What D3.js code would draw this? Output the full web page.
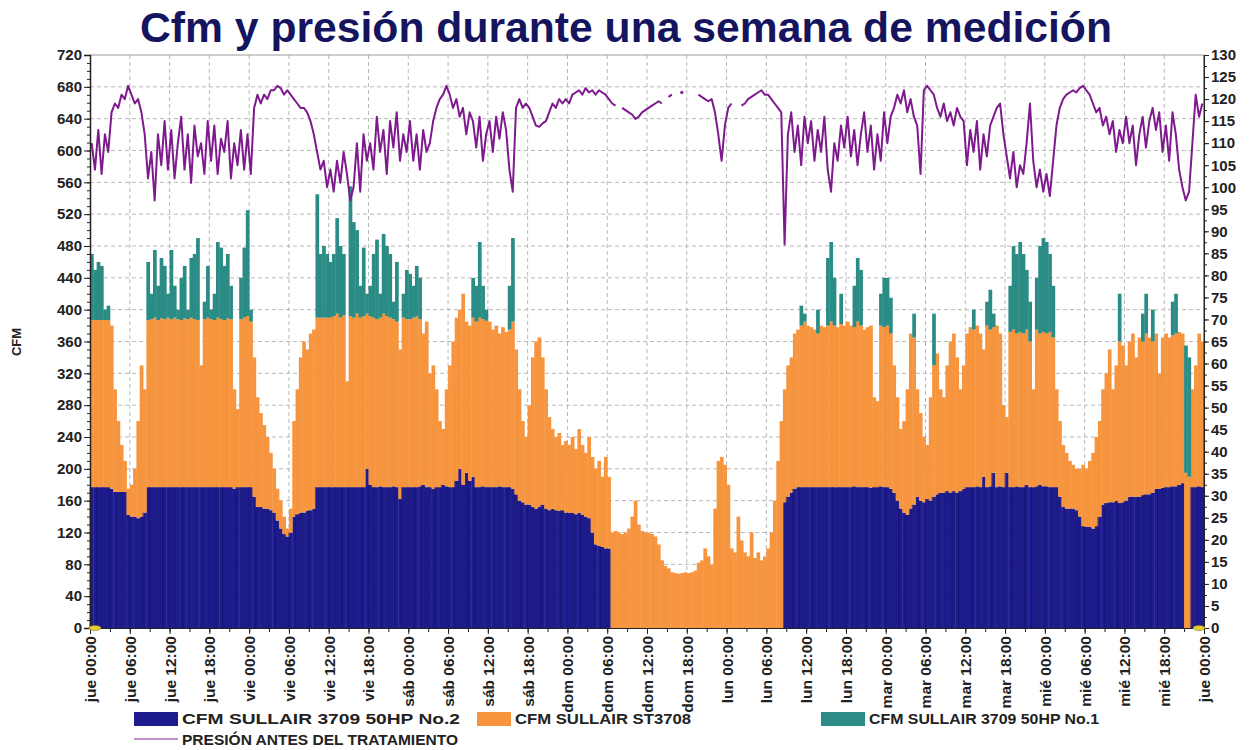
<!DOCTYPE html>
<html>
<head>
<meta charset="utf-8">
<script src="https://cdn.jsdelivr.net/npm/d3@7"></script>
<style>
  body { margin: 0; background: #fff; }
  svg text { font-family: 'Liberation Sans', Arial, sans-serif; font-weight: bold; }
</style>
</head>
<body>
<svg id="chart" width="1254" height="750"></svg>
<script>
'use strict'

// one value every 30 minutes, jue 00:00 -> jue 00:00 (12 values per 6 h row)
const no2 = [
  177,177,177,177,177,177,175,171,171,171,171,142,
  140,140,138,140,145,177,177,177,177,177,177,177,
  177,177,177,177,177,177,177,177,177,177,177,177,
  177,177,177,177,177,177,177,175,177,177,177,177,
  177,165,152,152,150,150,148,145,135,125,118,115,
  120,140,143,145,145,147,148,150,177,177,177,177,
  177,177,177,177,177,177,177,177,177,177,177,200,
  180,177,177,178,177,177,177,178,177,162,177,177,
  177,177,177,178,180,177,177,175,177,177,180,178,
  177,177,185,200,180,195,185,190,177,177,178,177,
  177,177,177,178,177,177,177,175,168,160,158,155,
  155,152,150,152,155,150,148,150,148,147,148,145,
  145,145,143,145,142,140,138,120,105,103,102,100,
  100,0,0,0,0,0,0,0,0,0,0,0,
  0,0,0,0,0,0,0,0,0,0,0,0,
  0,0,0,0,0,0,0,0,0,0,0,0,
  0,0,0,0,0,0,0,0,0,0,0,0,
  0,0,0,0,0,158,165,170,175,177,177,177,
  177,177,177,177,177,177,177,177,177,177,177,177,
  177,177,178,177,177,177,177,176,177,177,178,177,
  177,175,170,160,150,145,142,150,155,165,160,158,
  162,160,165,168,170,170,172,170,172,170,172,175,
  177,177,177,178,177,190,177,178,195,177,178,177,
  195,177,177,178,177,177,180,177,177,178,180,178,
  178,177,177,177,165,152,150,150,150,148,140,128,
  127,127,125,128,140,155,157,158,158,160,157,158,
  160,165,165,165,165,167,168,168,170,175,175,176,
  177,177,178,178,180,182,0,0,177,177,178,177
]

const st3708 = [
  210,210,210,210,210,210,205,129,89,59,39,33,
  40,60,122,190,155,210,211,213,210,212,211,213,
  211,213,211,210,212,211,213,211,210,153,211,213,
  211,210,213,211,210,212,211,125,98,211,213,215,
  208,175,138,118,105,90,72,55,40,35,22,10,
  30,120,157,195,215,203,222,225,213,213,213,213,
  213,215,218,213,216,133,215,213,218,213,215,195,
  212,213,211,212,218,215,213,210,208,188,213,211,
  211,213,215,210,190,208,143,155,123,83,70,122,
  153,183,205,200,240,190,195,200,208,213,210,209,
  208,198,203,192,201,195,198,210,182,140,102,85,
  125,188,210,213,185,150,117,100,92,98,82,90,
  85,95,82,105,88,80,102,95,95,107,88,115,
  90,120,122,120,118,120,125,140,160,130,122,120,
  120,118,115,105,85,78,75,70,69,68,69,70,
  69,70,72,82,85,100,90,80,150,210,215,205,
  180,100,95,140,110,95,90,120,88,95,85,90,
  100,120,160,210,260,142,165,170,195,198,203,208,
  203,201,198,193,203,201,203,208,203,201,205,203,
  208,203,200,208,203,198,201,204,113,108,202,201,
  203,195,160,130,100,115,158,220,210,135,110,82,
  68,130,165,177,130,120,158,190,198,170,128,155,
  193,201,198,202,193,160,203,197,183,203,192,103,
  70,195,198,192,195,193,195,183,123,197,190,194,
  192,195,188,123,95,78,70,60,55,52,60,77,
  73,83,95,112,120,145,163,192,142,170,203,197,
  170,195,205,175,200,193,202,197,190,195,145,189,
  193,188,190,192,192,188,195,190,123,153,192,183
]

const no1 = [
  83,63,73,68,13,18,0,0,0,0,0,0,
  0,0,0,0,0,73,32,85,43,76,67,30,
  87,40,12,53,66,12,75,82,103,0,22,65,
  12,33,95,90,68,81,42,0,0,52,88,133,
  15,0,0,0,0,0,0,0,0,0,0,0,
  0,0,0,0,0,0,0,0,155,80,90,80,
  70,78,120,90,77,0,163,120,105,40,86,25,
  38,80,100,30,100,88,80,22,75,0,30,62,
  57,40,63,52,0,0,0,0,0,0,0,0,
  0,0,0,0,0,0,0,50,45,95,42,14,
  0,0,0,0,0,0,55,105,0,0,0,0,
  0,0,0,0,0,0,0,0,0,0,0,0,
  0,0,0,0,0,0,0,0,0,0,0,0,
  0,0,0,0,0,0,0,0,0,0,0,0,
  0,0,0,0,0,0,0,0,0,0,0,0,
  0,0,0,0,0,0,0,0,0,0,0,0,
  0,0,0,0,0,0,0,0,0,0,0,0,
  0,0,0,0,0,0,0,0,0,0,25,10,
  0,0,0,30,0,0,85,100,60,0,38,0,
  0,0,52,80,70,0,0,0,0,0,40,62,
  60,45,0,0,0,0,0,0,30,0,0,0,
  0,0,65,0,0,0,0,0,0,0,0,0,
  0,0,25,0,0,0,30,50,17,0,0,0,
  0,58,105,100,113,100,75,50,0,65,110,118,
  115,98,65,0,0,0,0,0,0,0,0,0,
  0,0,0,0,0,0,0,0,0,0,60,0,
  0,0,0,0,0,35,50,0,40,0,0,0,
  0,0,42,50,0,0,160,150,0,0,0,0
]

const presion = [
  110,104,113,103,112,108,117,119,118,121,120,123,
  121,119,120,117,112,102,108,97,112,105,115,104,
  113,102,110,116,104,112,101,114,107,110,103,115,
  106,114,103,111,108,115,102,110,105,113,104,112,
  103,118,121,119,121,120,122,122,123,122.5,121,122,
  121,120,119,118,118,117,115,112,108,104,106,100,
  104,99,106,101,108,103,97,100,110,99,112,106,
  110,104,116,108,113,103,115,109,117,106,112,108,
  115,106,112,104,113,108,110,115,118,120,121,123,
  121,118,120,116,118,112,117,115,109,116,106,112,
  115,108,116,111,117,113,104,99,118,120,118,119,
  118,116,114,113.7,114.5,115,117,119,118,120,119,120,
  119,121,121.5,122,121,122.5,121.5,122,121,122,121.5,121,
  120,119,118.5,null,118,117.5,117,116.5,115.5,116,117,117.5,
  118,118.5,119,119.5,119,null,120.5,121,null,null,121.5,null,
  null,null,null,121,120.5,120,119.5,120,117,112,106,114,
  118,119,null,null,118.5,119,120,120.5,121,121.5,122,121,
  121,120,119,118,117,87,112,117,108,114,105,116,
  110,115,106,113,108,116,104,99,110,106,114,109,
  116,107,113,105,112,117,108,114,104,112,106,117,
  110,116,118,121,119,122,117,120,116,114,103,122,
  123,122,121,118,116,119,115,117,114,118,116,115,
  105,113,108,115,104,112,107,114,116,118,119,112,
  107,102,108,100,105,103,110,119,106,100,104,99,
  103,98,106,114,118,120,121,121.5,122,121.5,122.5,123,
  122,121,119,117,118,114,116,112,115,108,113,110,
  116,110,114,105,112,116,109,115,118,113,117,108,
  114,106,117,112,104,100,97,99,110,121,116,119
]

const dias = ['jue', 'vie', 'sáb', 'dom', 'lun', 'mar', 'mié', 'jue']
const horas = ['00:00', '06:00', '12:00', '18:00']
const series = ['CFM SULLAIR 3709 50HP No.2', 'CFM SULLAIR ST3708', 'CFM SULLAIR 3709 50HP No.1']
const lineaNombre = 'PRESIÓN ANTES DEL TRATAMIENTO'
const titulo = 'Cfm y presión durante una semana de medición'

const colores = { no2: '#1e1c8c', st3708: '#f7953f', no1: '#2b8c86', presion: '#7e1a8e' }

const margins = { left: 90, right: 1204, top: 55, bottom: 628 }
const svg = d3.select('#chart')

const x = d3.scaleLinear().domain([0, 168]).range([margins.left, margins.right])
const yL = d3.scaleLinear().domain([0, 720]).range([margins.bottom, margins.top])
const yR = d3.scaleLinear().domain([0, 130]).range([margins.bottom, margins.top])

const tabla = no2.map((v, i) => ({ t: i * 0.5, no2: v, st3708: st3708[i], no1: no1[i] }))
const stack = d3.stack().keys(['no2', 'st3708', 'no1'])(tabla)

svg.append('text')
  .attr('x', 626).attr('y', 42)
  .attr('text-anchor', 'middle')
  .attr('textLength', 972).attr('lengthAdjust', 'spacingAndGlyphs')
  .style('font-size', '42px').style('fill', '#15145f')
  .text(titulo)

// grid
const grid = svg.append('g')
grid.selectAll('.gx').data(d3.range(6, 168, 6)).enter().append('line')
  .attr('x1', d => x(d)).attr('x2', d => x(d))
  .attr('y1', margins.top).attr('y2', margins.bottom)
  .attr('stroke', '#b8b8b8').attr('stroke-dasharray', '4,3')
grid.selectAll('.gy').data(d3.range(40, 720, 40)).enter().append('line')
  .attr('x1', margins.left).attr('x2', margins.right)
  .attr('y1', d => yL(d)).attr('y2', d => yL(d))
  .attr('stroke', '#b8b8b8').attr('stroke-dasharray', '4,3')

// stacked bars
const w = x(0.5) - x(0)
stack.forEach(s => {
  svg.append('g').selectAll('rect').data(s).enter().append('rect')
    .attr('x', d => x(d.data.t))
    .attr('width', w + 0.4)
    .attr('y', d => yL(d[1]))
    .attr('height', d => Math.max(0, yL(d[0]) - yL(d[1])))
    .attr('fill', colores[s.key])
})

// darker bar edges in the navy block
svg.append('g').selectAll('line').data(tabla.filter((d, i) => i % 2 === 0 && d.no2 > 0)).enter().append('line')
  .attr('x1', d => x(d.t)).attr('x2', d => x(d.t))
  .attr('y1', yL(0)).attr('y2', d => yL(d.no2))
  .attr('stroke', '#11116a').attr('stroke-width', 0.8).attr('opacity', 0.8)

// pressure line
const linea = d3.line()
  .defined(d => d !== null)
  .x((d, i) => x(i * 0.5 + 0.25))
  .y(d => yR(d))
svg.append('path')
  .datum(presion)
  .attr('d', linea)
  .attr('fill', 'none')
  .attr('stroke', colores.presion)
  .attr('stroke-width', 2)
  .attr('stroke-linejoin', 'round')

const sueltos = presion.map((d, i) => ({ d, i }))
  .filter(p => p.d !== null && (presion[p.i - 1] == null) && (presion[p.i + 1] == null))
svg.append('g').selectAll('circle').data(sueltos).enter().append('circle')
  .attr('cx', p => x(p.i * 0.5 + 0.25)).attr('cy', p => yR(p.d))
  .attr('r', 1.6).attr('fill', colores.presion)

// frame
svg.append('line').attr('x1', margins.left).attr('x2', margins.right)
  .attr('y1', margins.top).attr('y2', margins.top).attr('stroke', '#9a9a9a')
svg.append('line').attr('x1', margins.right).attr('x2', margins.right)
  .attr('y1', margins.top).attr('y2', margins.bottom).attr('stroke', '#222')

// axes
const axisStyle = g => {
  g.selectAll('text').style('font-size', '15px').style('fill', '#222')
  g.selectAll('line,path').attr('stroke', '#222')
}

svg.append('g').attr('transform', 'translate(' + margins.left + ',0)')
  .call(d3.axisLeft(yL).tickValues(d3.range(0, 721, 10)).tickSize(3).tickFormat(''))
  .call(g => g.select('.domain').remove())
  .call(axisStyle)
svg.append('g').attr('transform', 'translate(' + margins.left + ',0)')
  .call(d3.axisLeft(yL).tickValues(d3.range(0, 721, 40)).tickSize(6).tickPadding(2))
  .call(g => g.select('.domain').attr('stroke-width', 1.5))
  .call(axisStyle)

svg.append('g').attr('transform', 'translate(' + margins.right + ',0)')
  .call(d3.axisRight(yR).tickValues(d3.range(0, 131, 2.5)).tickSize(3).tickFormat(''))
  .call(g => g.select('.domain').remove())
  .call(axisStyle)
svg.append('g').attr('transform', 'translate(' + margins.right + ',0)')
  .call(d3.axisRight(yR).tickValues(d3.range(0, 131, 5)).tickSize(5).tickPadding(2))
  .call(axisStyle)

const etiquetas = []
for (let d = 0; d < 7; ++d)
  for (let h = 0; h < 4; ++h)
    etiquetas.push(dias[d] + ' ' + horas[h])
etiquetas.push(dias[7] + ' ' + horas[0])

svg.append('g').attr('transform', 'translate(0,' + margins.bottom + ')')
  .call(d3.axisBottom(x).tickValues(d3.range(0, 169, 3)).tickSize(4).tickFormat(''))
  .call(axisStyle)
svg.append('g').attr('transform', 'translate(0,' + margins.bottom + ')')
  .call(d3.axisBottom(x).tickValues(d3.range(0, 169, 6)).tickSize(6).tickFormat((d, i) => etiquetas[i]))
  .call(axisStyle)
  .selectAll('text')
  .attr('y', 0).attr('x', -8)
  .attr('dy', '.35em')
  .attr('transform', 'rotate(-90)')
  .style('text-anchor', 'end')
  .style('font-size', '15.5px')

// little yellow handles on the baseline
svg.append('g').selectAll('ellipse').data([0, 168]).enter().append('ellipse')
  .attr('cx', d => x(d) + (d === 0 ? 5 : -5)).attr('cy', margins.bottom)
  .attr('rx', 6).attr('ry', 2.5)
  .attr('fill', '#e8cf3a').attr('stroke', '#8a7a10').attr('stroke-width', 0.6)

svg.append('text')
  .attr('transform', 'translate(21,342) rotate(-90)')
  .attr('text-anchor', 'middle')
  .style('font-size', '13px').style('fill', '#222')
  .text('CFM')

// legend
const leyenda = [
  { x: 134, y: 712, w: 44, color: colores.no2, nombre: series[0], largo: 278 },
  { x: 477, y: 712, w: 34, color: colores.st3708, nombre: series[1], largo: 176 },
  { x: 821, y: 712, w: 44, color: colores.no1, nombre: series[2], largo: 230 }
]
const ley = svg.append('g')
leyenda.forEach(l => {
  ley.append('rect').attr('x', l.x).attr('y', l.y).attr('width', l.w).attr('height', 14).attr('fill', l.color)
  ley.append('text').attr('x', l.x + l.w + 4).attr('y', l.y + 12)
    .attr('textLength', l.largo).attr('lengthAdjust', 'spacingAndGlyphs')
    .style('font-size', '15px').style('fill', '#222').text(l.nombre)
})
ley.append('line').attr('x1', 134).attr('x2', 178).attr('y1', 739).attr('y2', 739)
  .attr('stroke', colores.presion).attr('stroke-width', 1.2)
ley.append('text').attr('x', 182).attr('y', 745)
  .attr('textLength', 276).attr('lengthAdjust', 'spacingAndGlyphs')
  .style('font-size', '15px').style('fill', '#222').text(lineaNombre)
</script>
</body>
</html>
